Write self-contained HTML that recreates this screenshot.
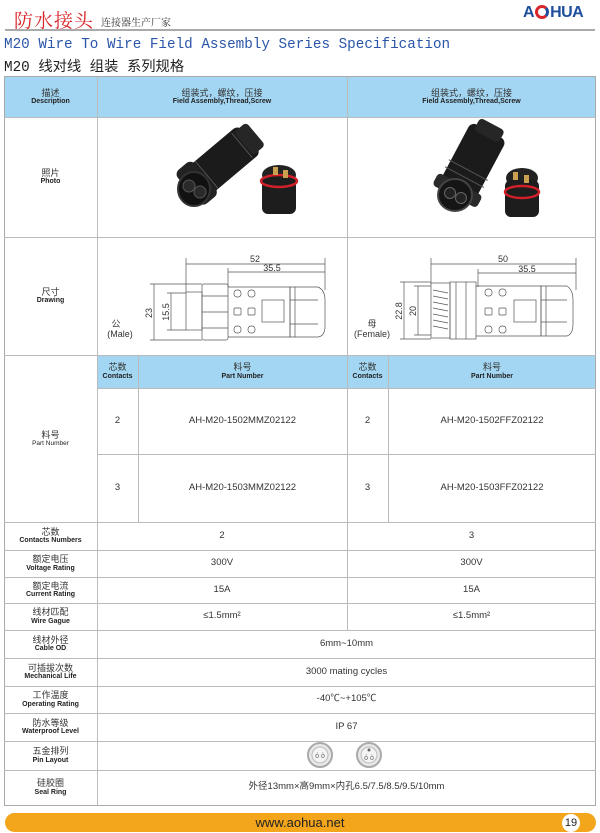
<!DOCTYPE html>
<html><head><meta charset="utf-8"><style>
*{margin:0;padding:0;box-sizing:border-box}
body{width:600px;height:833px;background:#fff;position:relative;overflow:hidden;font-family:"Liberation Sans","Noto Sans CJK SC",sans-serif;color:#222}
.a{position:absolute}
.c{position:absolute;display:flex;flex-direction:column;align-items:center;justify-content:center;text-align:center;line-height:1.15}
.cn{font-size:9px;color:#333}
.en{font-size:7px;font-weight:bold;color:#222}
.v{font-size:9.5px;color:#333}
.hl{position:absolute;height:1px;background:#bbb}
.vl{position:absolute;width:1px;background:#bbb}
.blue{position:absolute;background:#a3d6f2}
</style></head><body>
<div class="a" style="left:14px;top:6px;font-family:'Noto Serif CJK SC',serif;font-size:19px;color:#d9262b;letter-spacing:1px">防水接头</div>
<div class="a" style="left:101px;top:14px;font-family:'Noto Serif CJK SC',serif;font-size:10px;color:#333">连接器生产厂家</div>
<div class="a" style="left:523px;top:4px;font-size:16px;font-weight:bold;color:#1f4f9c;letter-spacing:-0.5px">A<span style="display:inline-block;width:14px;height:14px;border-radius:50%;border:3px solid #d9262b;border-right-color:#1f4f9c;vertical-align:-2px;margin:0 1px"></span>HUA</div>
<div class="hl" style="left:5px;top:29px;width:590px;height:2px;background:#aaa"></div>
<div class="a" style="left:4px;top:37px;font-family:'Liberation Mono',monospace;font-size:14.3px;color:#2a55a8;white-space:nowrap">M20 Wire To Wire Field Assembly Series Specification</div>
<div class="a" style="left:4px;top:55px;font-family:'Liberation Mono','Noto Sans CJK SC',monospace;font-size:14.3px;color:#222;white-space:nowrap">M20 线对线 组装 系列规格</div>

<div class="blue" style="left:4px;top:77px;width:592px;height:40px"></div>
<div class="blue" style="left:97px;top:355px;width:499px;height:33px"></div>

<div class="a" style="left:4px;top:76px;width:592px;height:730px;border:1px solid #aaa"></div>

<div class="hl" style="left:4px;top:117px;width:592px"></div>
<div class="hl" style="left:4px;top:237px;width:592px"></div>
<div class="hl" style="left:4px;top:355px;width:592px"></div>
<div class="hl" style="left:97px;top:388px;width:499px"></div>
<div class="hl" style="left:97px;top:454px;width:499px"></div>
<div class="hl" style="left:4px;top:522px;width:592px"></div>
<div class="hl" style="left:4px;top:550px;width:592px"></div>
<div class="hl" style="left:4px;top:577px;width:592px"></div>
<div class="hl" style="left:4px;top:603px;width:592px"></div>
<div class="hl" style="left:4px;top:630px;width:592px"></div>
<div class="hl" style="left:4px;top:658px;width:592px"></div>
<div class="hl" style="left:4px;top:686px;width:592px"></div>
<div class="hl" style="left:4px;top:713px;width:592px"></div>
<div class="hl" style="left:4px;top:741px;width:592px"></div>
<div class="hl" style="left:4px;top:770px;width:592px"></div>
<div class="vl" style="left:97px;top:77px;height:728px"></div>
<div class="vl" style="left:347px;top:77px;height:553px"></div>
<div class="vl" style="left:138px;top:355px;height:167px"></div>
<div class="vl" style="left:388px;top:355px;height:167px"></div>

<div class="c" style="left:4px;top:77px;width:93px;height:40px"><span class="cn">描述</span><span class="en">Description</span></div>
<div class="c" style="left:97px;top:77px;width:250px;height:40px"><span class="cn">组装式，螺纹，压接</span><span class="en">Field Assembly,Thread,Screw</span></div>
<div class="c" style="left:347px;top:77px;width:249px;height:40px"><span class="cn">组装式，螺纹，压接</span><span class="en">Field Assembly,Thread,Screw</span></div>
<div class="c" style="left:4px;top:117px;width:93px;height:120px"><span class="cn">照片</span><span class="en">Photo</span></div>
<div class="c" style="left:4px;top:237px;width:93px;height:118px"><span class="cn">尺寸</span><span class="en">Drawing</span></div>
<div class="c" style="left:4px;top:355px;width:93px;height:167px"><span class="cn">料号</span><span class="en" style="font-weight:normal;font-size:6.5px">Part Number</span></div>

<div class="c" style="left:97px;top:355px;width:41px;height:33px"><span class="cn">芯数</span><span class="en">Contacts</span></div>
<div class="c" style="left:138px;top:355px;width:209px;height:33px"><span class="cn">料号</span><span class="en">Part Number</span></div>
<div class="c" style="left:347px;top:355px;width:41px;height:33px"><span class="cn">芯数</span><span class="en">Contacts</span></div>
<div class="c" style="left:388px;top:355px;width:208px;height:33px"><span class="cn">料号</span><span class="en">Part Number</span></div>

<div class="c v" style="left:97px;top:388px;width:41px;height:66px">2</div>
<div class="c v" style="left:138px;top:388px;width:209px;height:66px">AH-M20-1502MMZ02122</div>
<div class="c v" style="left:347px;top:388px;width:41px;height:66px">2</div>
<div class="c v" style="left:388px;top:388px;width:208px;height:66px">AH-M20-1502FFZ02122</div>
<div class="c v" style="left:97px;top:454px;width:41px;height:68px">3</div>
<div class="c v" style="left:138px;top:454px;width:209px;height:68px">AH-M20-1503MMZ02122</div>
<div class="c v" style="left:347px;top:454px;width:41px;height:68px">3</div>
<div class="c v" style="left:388px;top:454px;width:208px;height:68px">AH-M20-1503FFZ02122</div>

<div class="c" style="left:4px;top:522px;width:93px;height:28px"><span class="cn">芯数</span><span class="en">Contacts Numbers</span></div>
<div class="c v" style="left:97px;top:522px;width:250px;height:28px">2</div>
<div class="c v" style="left:347px;top:522px;width:249px;height:28px">3</div>
<div class="c" style="left:4px;top:550px;width:93px;height:27px"><span class="cn">额定电压</span><span class="en">Voltage Rating</span></div>
<div class="c v" style="left:97px;top:550px;width:250px;height:27px">300V</div>
<div class="c v" style="left:347px;top:550px;width:249px;height:27px">300V</div>
<div class="c" style="left:4px;top:577px;width:93px;height:26px"><span class="cn">额定电流</span><span class="en">Current Rating</span></div>
<div class="c v" style="left:97px;top:577px;width:250px;height:26px">15A</div>
<div class="c v" style="left:347px;top:577px;width:249px;height:26px">15A</div>
<div class="c" style="left:4px;top:603px;width:93px;height:27px"><span class="cn">线材匹配</span><span class="en">Wire Gague</span></div>
<div class="c v" style="left:97px;top:603px;width:250px;height:27px">≤1.5mm²</div>
<div class="c v" style="left:347px;top:603px;width:249px;height:27px">≤1.5mm²</div>
<div class="c" style="left:4px;top:630px;width:93px;height:28px"><span class="cn">线材外径</span><span class="en">Cable OD</span></div>
<div class="c v" style="left:97px;top:630px;width:499px;height:28px">6mm~10mm</div>
<div class="c" style="left:4px;top:658px;width:93px;height:28px"><span class="cn">可插拔次数</span><span class="en">Mechanical Life</span></div>
<div class="c v" style="left:97px;top:658px;width:499px;height:28px">3000 mating cycles</div>
<div class="c" style="left:4px;top:686px;width:93px;height:27px"><span class="cn">工作温度</span><span class="en">Operating Rating</span></div>
<div class="c v" style="left:97px;top:686px;width:499px;height:27px">-40℃~+105℃</div>
<div class="c" style="left:4px;top:713px;width:93px;height:28px"><span class="cn">防水等级</span><span class="en">Waterproof Level</span></div>
<div class="c v" style="left:97px;top:713px;width:499px;height:28px">IP 67</div>
<div class="c" style="left:4px;top:741px;width:93px;height:29px"><span class="cn">五金排列</span><span class="en">Pin Layout</span></div>
<div class="c" style="left:4px;top:770px;width:93px;height:35px"><span class="cn">硅胶圈</span><span class="en">Seal Ring</span></div>
<div class="c v" style="left:97px;top:770px;width:499px;height:35px">外径13mm×高9mm×内孔6.5/7.5/8.5/9.5/10mm</div>

<svg class="a" style="left:0;top:0" width="600" height="833" viewBox="0 0 600 833">
<g transform="translate(222,162) rotate(-40)">
<rect x="-36" y="-18" width="72" height="36" rx="6" fill="#1b1b1b"/>
<rect x="-44" y="-22" width="22" height="44" rx="6" fill="#222"/>
<rect x="28" y="-15" width="16" height="30" rx="4" fill="#262626"/>
<line x1="-20" y1="-18" x2="-20" y2="18" stroke="#555" stroke-width="1"/>
<line x1="26" y1="-16" x2="26" y2="16" stroke="#555" stroke-width="1"/>
</g>
<ellipse cx="194" cy="189" rx="16" ry="17" fill="#111" stroke="#333" stroke-width="2"/>
<circle cx="189" cy="186" r="6" fill="#2a2a2a" stroke="#555"/><circle cx="200" cy="192" r="6" fill="#2a2a2a" stroke="#555"/>
<ellipse cx="279" cy="175" rx="17" ry="10" fill="#222"/>
<rect x="262" y="176" width="34" height="38" rx="6" fill="#1d1d1d"/>
<ellipse cx="279" cy="181" rx="18" ry="6" fill="none" stroke="#d0202a" stroke-width="2.5"/>
<rect x="273" y="167" width="5" height="8" fill="#c9a050"/><rect x="283" y="170" width="5" height="8" fill="#c9a050"/>
<g transform="translate(472,163) rotate(-62)">
<rect x="-36" y="-20" width="72" height="40" rx="6" fill="#1b1b1b"/>
<rect x="-38" y="-25" width="14" height="50" rx="4" fill="#2a2a2a"/>
<rect x="30" y="-14" width="14" height="28" rx="4" fill="#262626"/>
<line x1="-16" y1="-22" x2="-16" y2="22" stroke="#555"/><line x1="-8" y1="-22" x2="-8" y2="22" stroke="#555"/>
</g>
<ellipse cx="455" cy="195" rx="17" ry="16" fill="#151515" stroke="#444" stroke-width="2"/>
<circle cx="450" cy="193" r="5.5" fill="#222" stroke="#666"/><circle cx="461" cy="198" r="5.5" fill="#222" stroke="#666"/>
<ellipse cx="522" cy="178" rx="16" ry="10" fill="#222"/>
<rect x="505" y="180" width="34" height="37" rx="6" fill="#1d1d1d"/>
<ellipse cx="522" cy="192" rx="17" ry="6" fill="none" stroke="#d0202a" stroke-width="2.5"/>
<rect x="513" y="172" width="5" height="8" fill="#c9a050"/><rect x="524" y="175" width="5" height="8" fill="#c9a050"/>

<g stroke="#555" stroke-width="0.7" fill="none" font-family="Liberation Sans" font-size="9">
<line x1="186" y1="264" x2="325" y2="264"/><line x1="186" y1="258" x2="186" y2="292"/><line x1="325" y1="258" x2="325" y2="290"/>
<line x1="228" y1="272" x2="325" y2="272"/><line x1="228" y1="268" x2="228" y2="287"/>
<line x1="154" y1="284" x2="154" y2="340"/><line x1="150" y1="284" x2="202" y2="284"/><line x1="150" y1="340" x2="202" y2="340"/>
<line x1="171" y1="293" x2="171" y2="330"/><line x1="167" y1="293" x2="186" y2="293"/><line x1="167" y1="330" x2="186" y2="330"/>
<rect x="186" y="292" width="16" height="38"/>
<rect x="202" y="284" width="26" height="56" rx="2"/>
<line x1="202" y1="296" x2="228" y2="296"/><line x1="202" y1="312" x2="228" y2="312"/><line x1="202" y1="328" x2="228" y2="328"/>
<path d="M228 287 H290 V337 H228"/>
<rect x="234" y="290" width="7" height="7" rx="3"/><rect x="248" y="290" width="7" height="7" rx="3"/>
<rect x="234" y="308" width="7" height="7" rx="1"/><rect x="248" y="308" width="7" height="7" rx="1"/>
<rect x="234" y="326" width="7" height="7" rx="3"/><rect x="248" y="326" width="7" height="7" rx="3"/>
<rect x="262" y="300" width="22" height="22"/>
<path d="M290 287 H318 Q325 290 325 300 V326 Q325 336 318 337 H290 Z"/>
<line x1="295" y1="287" x2="295" y2="337"/><line x1="290" y1="300" x2="318" y2="300"/><line x1="290" y1="324" x2="318" y2="324"/>
<text x="255" y="262" fill="#333" stroke="none" text-anchor="middle">52</text>
<text x="272" y="271" fill="#333" stroke="none" text-anchor="middle">35.5</text>
<text transform="translate(152,313) rotate(-90)" fill="#333" stroke="none" text-anchor="middle">23</text>
<text transform="translate(169,312) rotate(-90)" fill="#333" stroke="none" text-anchor="middle">15.5</text>
<text x="116" y="327" fill="#333" stroke="none" font-family="Noto Sans CJK SC" text-anchor="middle">公</text>
<text x="120" y="337" fill="#333" stroke="none" text-anchor="middle">(Male)</text>
</g>
<g stroke="#555" stroke-width="0.7" fill="none" font-family="Liberation Sans" font-size="9">
<line x1="431" y1="264" x2="576" y2="264"/><line x1="431" y1="258" x2="431" y2="284"/><line x1="576" y1="258" x2="576" y2="290"/>
<line x1="478" y1="273" x2="576" y2="273"/><line x1="478" y1="269" x2="478" y2="287"/>
<line x1="404" y1="282" x2="404" y2="339"/><line x1="400" y1="282" x2="431" y2="282"/><line x1="400" y1="339" x2="431" y2="339"/>
<line x1="418" y1="286" x2="418" y2="335"/><line x1="414" y1="286" x2="431" y2="286"/><line x1="414" y1="335" x2="431" y2="335"/>
<rect x="431" y="283" width="19" height="55"/>
<path d="M433 290 L448 293 M433 296 L448 299 M433 302 L448 305 M433 308 L448 311 M433 314 L448 317 M433 320 L448 323 M433 326 L448 329"/>
<rect x="450" y="282" width="26" height="57"/>
<line x1="456" y1="282" x2="456" y2="339"/><line x1="466" y1="282" x2="466" y2="339"/>
<path d="M476 286 H541 V336 H476"/>
<rect x="485" y="289" width="7" height="7" rx="3"/><rect x="499" y="289" width="7" height="7" rx="3"/>
<rect x="485" y="308" width="7" height="7" rx="1"/><rect x="499" y="308" width="7" height="7" rx="1"/>
<rect x="485" y="326" width="7" height="7" rx="3"/><rect x="499" y="326" width="7" height="7" rx="3"/>
<rect x="514" y="300" width="22" height="22"/>
<path d="M541 286 H567 Q573 290 573 300 V324 Q573 334 567 336 H541 Z"/>
<line x1="546" y1="286" x2="546" y2="336"/><line x1="541" y1="300" x2="567" y2="300"/><line x1="541" y1="322" x2="567" y2="322"/>
<text x="503" y="262" fill="#333" stroke="none" text-anchor="middle">50</text>
<text x="527" y="272" fill="#333" stroke="none" text-anchor="middle">35.5</text>
<text transform="translate(402,311) rotate(-90)" fill="#333" stroke="none" text-anchor="middle">22.8</text>
<text transform="translate(416,311) rotate(-90)" fill="#333" stroke="none" text-anchor="middle">20</text>
<text x="372" y="327" fill="#333" stroke="none" font-family="Noto Sans CJK SC" text-anchor="middle">母</text>
<text x="372" y="337" fill="#333" stroke="none" text-anchor="middle">(Female)</text>
</g>
<circle cx="320" cy="755" r="12" fill="#e8e8e8" stroke="#aaa" stroke-width="2"/>
<circle cx="320" cy="755" r="8" fill="#f4f4f4" stroke="#bbb"/>
<text x="320" y="758" font-size="7" text-anchor="middle" fill="#666" font-family="Liberation Sans">ó ò</text>
<circle cx="369" cy="755" r="12" fill="#e8e8e8" stroke="#aaa" stroke-width="2"/>
<circle cx="369" cy="755" r="8" fill="#f4f4f4" stroke="#bbb"/>
<text x="369" y="760" font-size="7" text-anchor="middle" fill="#666" font-family="Liberation Sans">ó ò</text>
<circle cx="369" cy="750" r="1.5" fill="#666"/>
</svg>

<div class="a" style="left:5px;top:813px;width:591px;height:19px;border-radius:10px;background:#f3a51b"></div>
<div class="a" style="left:0;top:813px;width:600px;height:19px;text-align:center;font-size:13px;line-height:19px;color:#222">www.aohua.net</div>
<div class="a" style="left:562px;top:814px;width:18px;height:18px;border-radius:50%;background:#fff;text-align:center;font-size:11px;line-height:18px;color:#222">19</div>
</body></html>
